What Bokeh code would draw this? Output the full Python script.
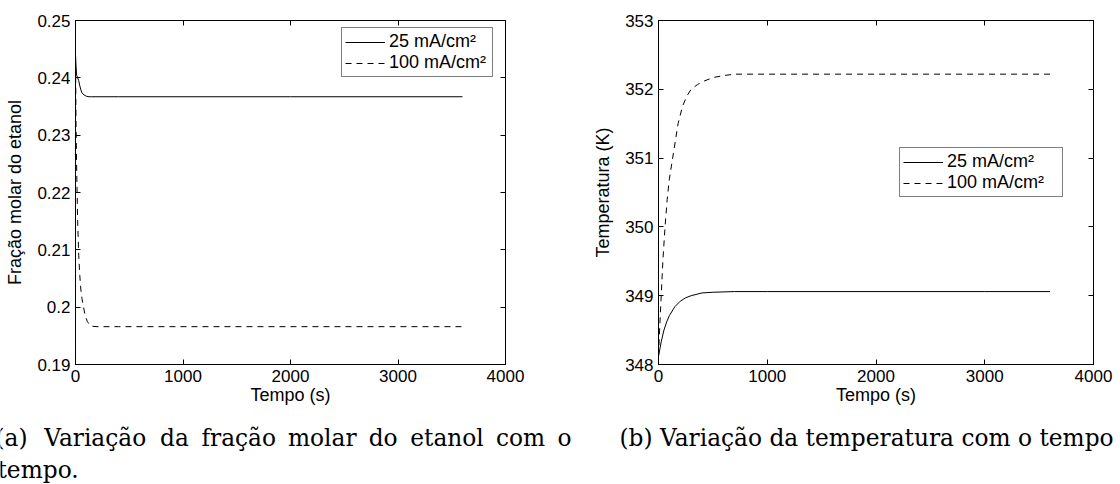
from bokeh.plotting import figure
from bokeh.layouts import row, column
from bokeh.models import (LinearAxis, Legend, LegendItem, FixedTicker,
                          Range1d, CustomJSTickFormatter, ColumnDataSource)
from bokeh.core.properties import value
from bokeh.embed import file_html
from bokeh.resources import INLINE

# ---- data: ethanol molar fraction vs time ----
t_fr_25 = [0, 5, 10, 20, 30, 40, 50, 60, 80, 100, 125, 150, 200, 400, 1000, 2000, 3000, 3600]
fr_25 = [0.2440, 0.2420, 0.2405, 0.2400, 0.2395, 0.2386, 0.2379, 0.2374, 0.2370, 0.2368,
         0.2367, 0.2367, 0.2367, 0.2367, 0.2367, 0.2367, 0.2367, 0.2367]

t_fr_100 = [0, 5, 10, 20, 30, 40, 50, 60, 75, 90, 110, 140, 200, 400, 1000, 2000, 3000, 3600]
fr_100 = [0.2440, 0.2320, 0.2250, 0.2150, 0.2090, 0.2055, 0.2030, 0.2015, 0.2000, 0.1985,
          0.1975, 0.1967, 0.1966, 0.1966, 0.1966, 0.1966, 0.1966, 0.1966]

# ---- data: temperature vs time ----
t_T_25 = [0, 25, 50, 75, 100, 150, 200, 250, 300, 400, 500, 700, 1000, 2000, 3000, 3600]
T_25 = [348.12, 348.33, 348.50, 348.62, 348.71, 348.84, 348.92, 348.97, 349.00, 349.04,
        349.05, 349.06, 349.06, 349.06, 349.06, 349.06]

t_T_100 = [0, 10, 25, 40, 60, 80, 100, 140, 180, 220, 260, 300, 360, 420, 500, 600, 700,
           1000, 2000, 3000, 3600]
T_100 = [348.12, 348.50, 349.00, 349.50, 350.00, 350.40, 350.70, 351.10, 351.50, 351.75,
         351.90, 352.00, 352.07, 352.12, 352.17, 352.20, 352.22, 352.22, 352.22, 352.22, 352.22]

series_names = ["25 mA/cm\u00b2", "100 mA/cm\u00b2"]

x_ticks = [0, 1000, 2000, 3000, 4000]
x_tick_labels = ["0", "1000", "2000", "3000", "4000"]
fr_ticks = [0.19, 0.20, 0.21, 0.22, 0.23, 0.24, 0.25]
fr_tick_labels = ["0.19", "0.2", "0.21", "0.22", "0.23", "0.24", "0.25"]
T_ticks = [348, 349, 350, 351, 352, 353]
T_tick_labels = ["348", "349", "350", "351", "352", "353"]

caption_a_words = ["(a)", "Varia\u00e7\u00e3o", "da", "fra\u00e7\u00e3o", "molar", "do",
                   "etanol", "com", "o"]
caption_a_tail = "tempo."
caption_b = "(b) Varia\u00e7\u00e3o da temperatura com o tempo"

SANS = "Liberation Sans"
SERIF = "DejaVu Serif"
W = 1120
H = 484
PLOT_H = 410          # height of the two chart panels; captions below
FRAME_BOTTOM = 364
DASH = "6 5"


def make_panel(width, left, right, y_range, y_ticks, y_labels, y_title,
               xs, ys, legend_loc, label_width):
    p = figure(width=width, height=PLOT_H, output_backend="svg", toolbar_location=None,
               x_range=Range1d(0, 4000), y_range=y_range,
               min_border_left=left, min_border_right=right,
               min_border_top=20, min_border_bottom=PLOT_H - FRAME_BOTTOM,
               x_axis_label="Tempo (s)", y_axis_label=y_title)
    p.grid.visible = False
    p.outline_line_color = "black"
    p.background_fill_color = "white"
    p.border_fill_color = "white"

    for ax, ticks, labels in ((p.xaxis[0], x_ticks, x_tick_labels),
                              (p.yaxis[0], y_ticks, y_labels)):
        ax.ticker = FixedTicker(ticks=ticks)
        ax.major_label_overrides = dict(zip(ticks, labels))
        ax.minor_tick_line_color = None
        ax.major_tick_in = 5
        ax.major_tick_out = 0
        ax.axis_line_color = "black"
        ax.major_tick_line_color = "black"
        ax.major_label_text_font = SANS
        ax.major_label_text_font_size = "17px"
        ax.major_label_text_color = "black"
        ax.axis_label_text_font = SANS
        ax.axis_label_text_font_size = "18px"
        ax.axis_label_text_font_style = "normal"
        ax.axis_label_text_color = "black"
    p.xaxis.major_label_standoff = 5
    p.xaxis.axis_label_standoff = 0
    p.yaxis.major_label_standoff = 5
    p.yaxis.axis_label_standoff = 9

    blank = CustomJSTickFormatter(code="return ''")
    top = LinearAxis(ticker=FixedTicker(ticks=x_ticks), formatter=blank,
                     major_tick_in=5, major_tick_out=0, minor_tick_line_color=None,
                     major_label_standoff=0)
    rgt = LinearAxis(ticker=FixedTicker(ticks=y_ticks), formatter=blank,
                     major_tick_in=5, major_tick_out=0, minor_tick_line_color=None,
                     major_label_standoff=0)
    p.add_layout(top, "above")
    p.add_layout(rgt, "right")

    r1 = p.line(xs[0], ys[0], line_color="black", line_width=1)
    r2 = p.line(xs[1], ys[1], line_color="black", line_width=1, line_dash=DASH)

    legend = Legend(items=[LegendItem(label=series_names[0], renderers=[r1]),
                           LegendItem(label=series_names[1], renderers=[r2])],
                    location=legend_loc, orientation="vertical",
                    border_line_color="black", border_line_width=1,
                    background_fill_color="white", background_fill_alpha=1,
                    label_text_font=SANS, label_text_font_size="18px",
                    label_text_color="black", label_width=label_width,
                    glyph_width=40, glyph_height=20, label_height=20,
                    label_standoff=4, spacing=0, padding=3, margin=0)
    p.add_layout(legend, "center")
    return p


left = make_panel(575, 75, 70, Range1d(0.19, 0.25), fr_ticks, fr_tick_labels,
                  "Fra\u00e7\u00e3o molar do etanol",
                  (t_fr_25, t_fr_100), (fr_25, fr_100), (266, 287), 100)
right = make_panel(545, 83, 27, Range1d(348, 353), T_ticks, T_tick_labels,
                   "Temperatura (K)",
                   (t_T_25, t_T_100), (T_25, T_100), (241, 167), 112)

# caption strip: its coordinates are page pixels (x from left, y from top)
cap = figure(width=W, height=H - PLOT_H, output_backend="svg", toolbar_location=None,
             x_range=Range1d(0, W), y_range=Range1d(H, PLOT_H),
             x_axis_type=None, y_axis_type=None,
             min_border=0, min_border_left=0, min_border_right=0,
             min_border_top=0, min_border_bottom=0)
cap.grid.visible = False
cap.outline_line_color = None
cap.background_fill_color = "white"
cap.border_fill_color = "white"

# justified first line of caption (a): words spread across the column
word_x = [-5, 43.7, 159.5, 200.9, 287.5, 368.2, 409.8, 495.4, 556.9]
cap_src = ColumnDataSource(dict(
    x=word_x + [-3, 619],
    y=[437] * len(word_x) + [469, 437],
    text=caption_a_words + [caption_a_tail, caption_b],
))
cap.text(x="x", y="y", text="text", source=cap_src,
         text_font=value(SERIF), text_font_size="23.3px", text_color="black",
         text_baseline="alphabetic", text_align="left")

layout = column(row(left, right, spacing=0), cap, spacing=0)
open("out.html", "w").write(file_html(layout, INLINE))
